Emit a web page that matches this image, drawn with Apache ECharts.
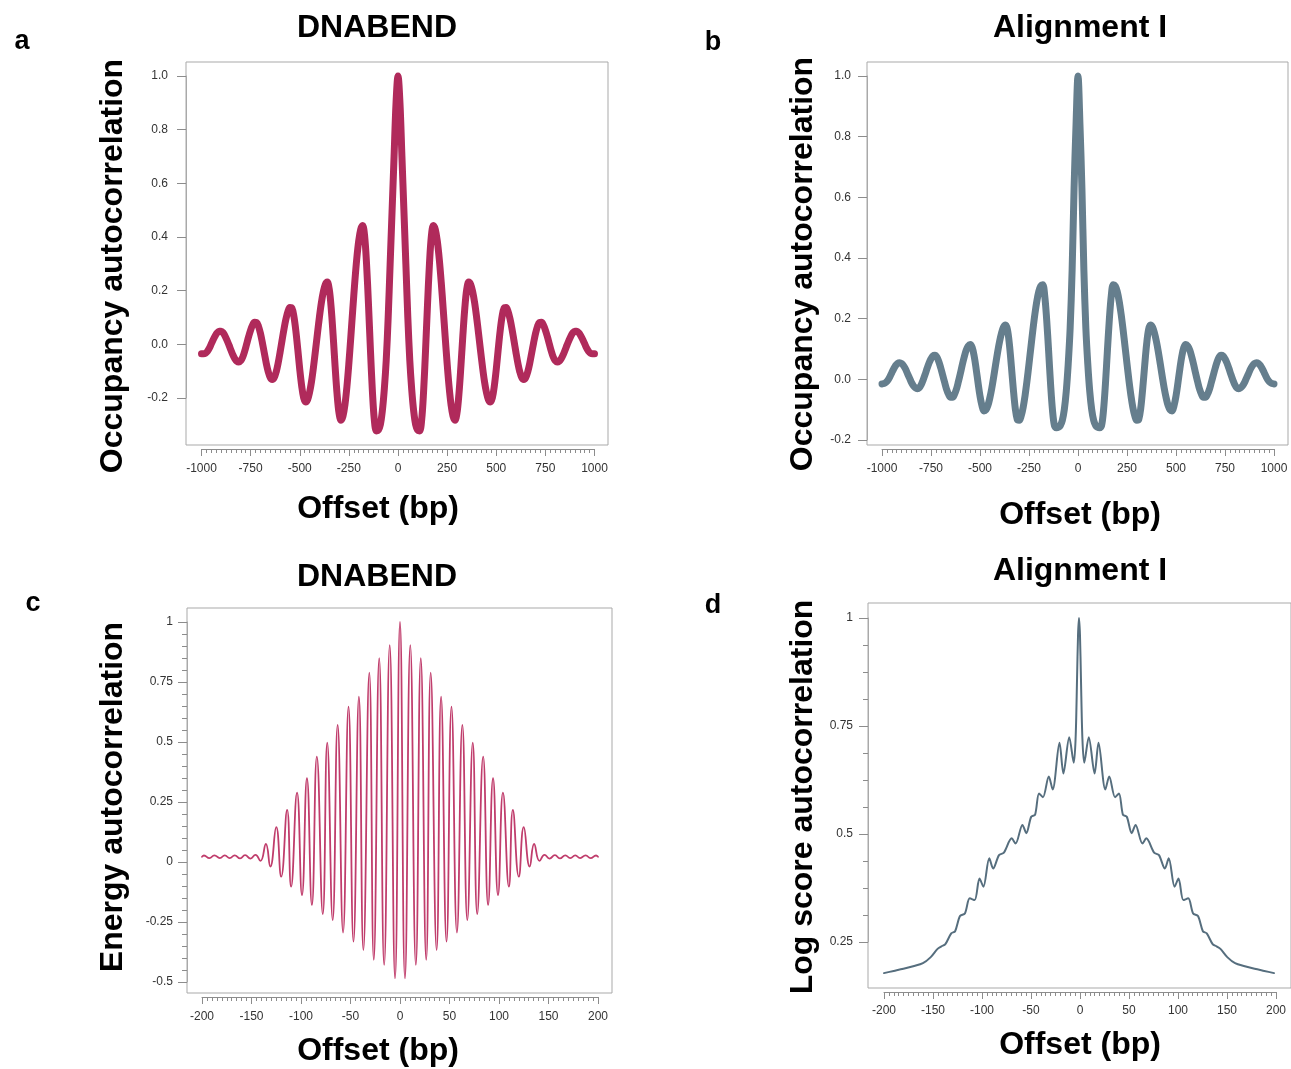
<!DOCTYPE html>
<html>
<head>
<meta charset="utf-8">
<title>Autocorrelation</title>
<style>
  html, body { margin: 0; padding: 0; background: #fff; }
  #main { width: 1291px; height: 1069px; }
</style>
</head>
<body>
<div id="main"></div>
<script src="https://cdn.jsdelivr.net/npm/echarts@6/dist/echarts.min.js"></script>
<script>
var myChart = echarts.init(document.getElementById('main'));

// offsets for panels a and b, one sample every 10 bp
var offsetsAB = [];
for (var s = -1000; s <= 1000; s += 10) offsetsAB.push(s);

// a: DNABEND occupancy autocorrelation
var occDnabend = [
  -0.035, -0.035, -0.033, -0.026, -0.014, 0.002, 0.018, 0.032, 0.043, 0.049,
  0.049, 0.043, 0.031, 0.015, -0.003, -0.022, -0.040, -0.054, -0.063, -0.066,
  -0.061, -0.047, -0.025, 0.002, 0.029, 0.053, 0.072, 0.082, 0.081, 0.067,
  0.041, 0.005, -0.034, -0.072, -0.103, -0.124, -0.131, -0.124, -0.103, -0.070,
  -0.029, 0.015, 0.058, 0.095, 0.123, 0.137, 0.135, 0.105, 0.051, -0.019,
  -0.093, -0.156, -0.200, -0.215, -0.206, -0.179, -0.138, -0.084, -0.023, 0.040,
  0.101, 0.155, 0.196, 0.223, 0.232, 0.206, 0.135, 0.032, -0.083, -0.186,
  -0.257, -0.283, -0.268, -0.225, -0.158, -0.071, 0.028, 0.132, 0.231, 0.318,
  0.385, 0.428, 0.443, 0.405, 0.299, 0.145, -0.025, -0.179, -0.285, -0.323,
  -0.32, -0.3, -0.25, -0.17, -0.06, 0.1, 0.3, 0.5, 0.7, 0.9,
  1.0,
  0.9, 0.7, 0.5, 0.3, 0.1, -0.06, -0.17, -0.25, -0.3, -0.32,
  -0.323, -0.285, -0.179, -0.025, 0.145, 0.299, 0.405, 0.443, 0.428, 0.385,
  0.318, 0.231, 0.132, 0.028, -0.071, -0.158, -0.225, -0.268, -0.283, -0.257,
  -0.186, -0.083, 0.032, 0.135, 0.206, 0.232, 0.223, 0.196, 0.155, 0.101,
  0.040, -0.023, -0.084, -0.138, -0.179, -0.206, -0.215, -0.200, -0.156, -0.093,
  -0.019, 0.051, 0.105, 0.135, 0.137, 0.123, 0.095, 0.058, 0.015, -0.029,
  -0.070, -0.103, -0.124, -0.131, -0.124, -0.103, -0.072, -0.034, 0.005, 0.041,
  0.067, 0.081, 0.082, 0.072, 0.053, 0.029, 0.002, -0.025, -0.047, -0.061,
  -0.066, -0.063, -0.054, -0.040, -0.022, -0.003, 0.015, 0.031, 0.043, 0.049,
  0.049, 0.043, 0.032, 0.018, 0.002, -0.014, -0.026, -0.033, -0.035, -0.035
];

// b: Alignment I occupancy autocorrelation
var occAlignment = [
  -0.015, -0.014, -0.010, -0.003, 0.008, 0.022, 0.035, 0.046, 0.053, 0.055,
  0.052, 0.045, 0.034, 0.019, 0.005, -0.010, -0.021, -0.028, -0.031, -0.028,
  -0.018, -0.002, 0.016, 0.036, 0.054, 0.068, 0.077, 0.079, 0.073, 0.058,
  0.037, 0.013, -0.011, -0.034, -0.050, -0.059, -0.059, -0.049, -0.032, -0.007,
  0.020, 0.049, 0.075, 0.097, 0.110, 0.115, 0.105, 0.077, 0.036, -0.011,
  -0.055, -0.087, -0.104, -0.101, -0.087, -0.062, -0.030, 0.009, 0.050, 0.090,
  0.125, 0.153, 0.172, 0.179, 0.164, 0.115, 0.044, -0.032, -0.096, -0.132,
  -0.135, -0.121, -0.093, -0.053, -0.004, 0.051, 0.108, 0.164, 0.215, 0.258,
  0.290, 0.308, 0.312, 0.277, 0.198, 0.094, -0.015, -0.103, -0.153, -0.16,
  -0.158, -0.152, -0.135, -0.1, -0.04, 0.05, 0.17, 0.36, 0.63, 0.84,
  1.0,
  0.84, 0.63, 0.36, 0.17, 0.05, -0.04, -0.1, -0.135, -0.152, -0.158,
  -0.16, -0.153, -0.103, -0.015, 0.094, 0.198, 0.277, 0.312, 0.308, 0.290,
  0.258, 0.215, 0.164, 0.108, 0.051, -0.004, -0.053, -0.093, -0.121, -0.135,
  -0.132, -0.096, -0.032, 0.044, 0.115, 0.164, 0.179, 0.172, 0.153, 0.125,
  0.090, 0.050, 0.009, -0.030, -0.062, -0.087, -0.101, -0.104, -0.087, -0.055,
  -0.011, 0.036, 0.077, 0.105, 0.115, 0.110, 0.097, 0.075, 0.049, 0.020,
  -0.007, -0.032, -0.049, -0.059, -0.059, -0.050, -0.034, -0.011, 0.013, 0.037,
  0.058, 0.073, 0.079, 0.077, 0.068, 0.054, 0.036, 0.016, -0.002, -0.018,
  -0.028, -0.031, -0.028, -0.021, -0.010, 0.005, 0.019, 0.034, 0.045, 0.052,
  0.055, 0.053, 0.046, 0.035, 0.022, 0.008, -0.003, -0.010, -0.014, -0.015
];

// c: DNABEND energy autocorrelation, read at the turning points
var energyOffsets = [
  -200, -198, -192.5, -187.5, -182, -177, -172, -167, -161.5, -156.5,
  -151, -146, -141, -135.5, -131, -125, -120, -114, -110, -104,
  -99, -94, -89, -84, -78, -73.5, -68, -63, -57.5, -52,
  -47, -41.5, -37, -31, -26.5, -21, -16, -10.4, -5, 0,
  5, 10.4, 16, 21, 26.5, 31, 37, 41.5, 47, 52,
  57.5, 63, 68, 73.5, 78, 84, 89, 94, 99, 104,
  110, 114, 120, 125, 131, 135.5, 141, 146, 151, 156.5,
  161.5, 167, 172, 177, 182, 187.5, 192.5, 198, 200
];
var energyValues = [
  0.022, 0.027, 0.016, 0.028, 0.016, 0.028, 0.016, 0.028, 0.015, 0.029,
  0.014, 0.03, 0.005, 0.075, -0.019, 0.145, -0.061, 0.217, -0.103, 0.289,
  -0.138, 0.349, -0.179, 0.439, -0.217, 0.497, -0.242, 0.571, -0.294, 0.647,
  -0.332, 0.689, -0.367, 0.789, -0.408, 0.849, -0.429, 0.904, -0.485, 1.0,
  -0.485, 0.904, -0.429, 0.849, -0.408, 0.789, -0.367, 0.689, -0.332, 0.647,
  -0.294, 0.571, -0.242, 0.497, -0.217, 0.439, -0.179, 0.349, -0.138, 0.289,
  -0.103, 0.217, -0.061, 0.145, -0.019, 0.075, 0.005, 0.03, 0.014, 0.029,
  0.015, 0.028, 0.016, 0.028, 0.016, 0.028, 0.016, 0.027, 0.022
];

// d: Alignment I log score autocorrelation
var logOffsets = [
  -200, -190, -180, -170, -160, -152, -145, -141, -137, -131,
  -127, -122, -117, -112, -107, -102, -98, -92, -88, -82,
  -77, -69, -65, -58, -54, -49, -45, -41, -37, -31,
  -27, -20, -16, -10, -5.4, -3.5, -2, -1, 0,
  1, 2, 3.5, 5.4, 10, 16, 20, 27, 31, 37,
  41, 45, 49, 54, 58, 65, 69, 77, 82, 88,
  92, 98, 102, 107, 112, 117, 122, 127, 131, 137,
  141, 145, 152, 160, 170, 180, 190, 200
];
var logValues = [
  0.178, 0.183, 0.188, 0.194, 0.201, 0.215, 0.234, 0.24, 0.245, 0.27,
  0.275, 0.31, 0.316, 0.351, 0.347, 0.397, 0.378, 0.444, 0.42, 0.451,
  0.457, 0.49, 0.478, 0.521, 0.502, 0.54, 0.545, 0.594, 0.585, 0.633,
  0.603, 0.711, 0.64, 0.724, 0.665, 0.72, 0.86, 0.96, 1.0,
  0.96, 0.86, 0.72, 0.665, 0.724, 0.64, 0.711, 0.603, 0.633, 0.585,
  0.594, 0.545, 0.54, 0.502, 0.521, 0.478, 0.49, 0.457, 0.451, 0.42,
  0.444, 0.378, 0.397, 0.347, 0.351, 0.316, 0.31, 0.275, 0.27, 0.245,
  0.24, 0.234, 0.215, 0.201, 0.194, 0.188, 0.183, 0.178
];

// tick ranges: [min, max, step]
var xTicksWide = [-1000, 1000, 250];
var xTicksNarrow = [-200, 200, 50];
var yTicksOcc = [-0.2, 1.0, 0.2];
var yTicksEnergy = [-0.5, 1, 0.25];
var yTicksLog = [0.25, 1, 0.25];

function pairs(xs, ys) {
    var out = [];
    for (var i = 0; i < xs.length; i++) out.push([xs[i], ys[i]]);
    return out;
}

// layout in pixels: box [l, t, r, b], where the first/last ticks sit, axis line spots
var panels = [
    {box: [186, 62, 608, 445], xPx: [201.5, 594.5], yPx: [398, 76], xLineY: 449,
     xT: xTicksWide, yT: yTicksOcc, xMinor: 10, yMinor: 0, yLabMargin: 18, xLabMargin: 14,
     data: pairs(offsetsAB, occDnabend), color: '#b02a5b', width: 7, smooth: 0.35, fmt: 1},
    {box: [867, 62, 1288, 445], xPx: [882, 1274], yPx: [440, 76], xLineY: 449,
     xT: xTicksWide, yT: yTicksOcc, xMinor: 10, yMinor: 0, yLabMargin: 16, xLabMargin: 14,
     data: pairs(offsetsAB, occAlignment), color: '#657e8d', width: 7, smooth: 0.35, fmt: 1},
    {box: [187, 608, 612, 993], xPx: [202, 598], yPx: [982, 622], xLineY: 997,
     xT: xTicksNarrow, yT: yTicksEnergy, xMinor: 10, yMinor: 5, yLabMargin: 14, xLabMargin: 14,
     data: pairs(energyOffsets, energyValues), color: '#c03d6c', width: 1.8, smooth: 0.5, fmt: 0},
    {box: [868, 603, 1293, 988], xPx: [884, 1276], yPx: [942, 618], xLineY: 992,
     xT: xTicksNarrow, yT: yTicksLog, xMinor: 10, yMinor: 4, yLabMargin: 15, xLabMargin: 13,
     data: pairs(logOffsets, logValues), color: '#566e7e', width: 2, smooth: 0.3, fmt: 0}
];

function lin(p, p0, p1, v0, v1) {
    return v0 + (p - p0) * (v1 - v0) / (p1 - p0);
}

function oneDecimal(v) {
    return v.toFixed(1);
}

function plain(v) {
    return String(v);
}

var grids = [], xAxes = [], yAxes = [], series = [];
var tickColor = '#8c8c8c';

panels.forEach(function (pn, i) {
    var b = pn.box;
    grids.push({left: b[0], top: b[1], width: b[2] - b[0], height: b[3] - b[1],
        show: true, borderColor: '#a9a9a9', borderWidth: 1, backgroundColor: 'transparent'});
    grids.push({left: pn.xPx[0], top: pn.yPx[1], width: pn.xPx[1] - pn.xPx[0],
        height: pn.yPx[0] - pn.yPx[1], show: false});

    xAxes.push({type: 'value', gridIndex: 2 * i, show: false,
        min: lin(b[0], pn.xPx[0], pn.xPx[1], pn.xT[0], pn.xT[1]),
        max: lin(b[2], pn.xPx[0], pn.xPx[1], pn.xT[0], pn.xT[1])});
    yAxes.push({type: 'value', gridIndex: 2 * i, show: false,
        min: lin(b[3], pn.yPx[0], pn.yPx[1], pn.yT[0], pn.yT[1]),
        max: lin(b[1], pn.yPx[0], pn.yPx[1], pn.yT[0], pn.yT[1])});

    xAxes.push({type: 'value', gridIndex: 2 * i + 1, position: 'bottom',
        offset: pn.xLineY - pn.yPx[0],
        min: pn.xT[0], max: pn.xT[1], interval: pn.xT[2],
        axisLine: {show: true, onZero: false, lineStyle: {color: tickColor, width: 1}},
        axisTick: {show: true, length: 7, lineStyle: {color: tickColor}},
        minorTick: {show: true, splitNumber: pn.xMinor, length: 4, lineStyle: {color: tickColor}},
        axisLabel: {fontSize: 12, color: '#333', margin: pn.xLabMargin, fontFamily: 'Liberation Sans',
            formatter: plain},
        splitLine: {show: false}});

    var yLabel = {fontSize: 12, color: '#333', margin: pn.yLabMargin, fontFamily: 'Liberation Sans',
        formatter: pn.fmt ? oneDecimal : plain};
    yAxes.push({type: 'value', gridIndex: 2 * i + 1, position: 'left',
        offset: pn.xPx[0] - b[0],
        min: pn.yT[0], max: pn.yT[1], interval: pn.yT[2],
        axisLine: {show: true, onZero: false, lineStyle: {color: '#a9a9a9', width: 1}},
        axisTick: {show: true, length: 9, lineStyle: {color: tickColor}},
        minorTick: {show: pn.yMinor > 0, splitNumber: pn.yMinor || 5, length: 5, lineStyle: {color: tickColor}},
        axisLabel: yLabel,
        splitLine: {show: false}});

    series.push({type: 'line', xAxisIndex: 2 * i, yAxisIndex: 2 * i,
        data: pn.data, smooth: pn.smooth, showSymbol: false, symbol: 'none',
        lineStyle: {color: pn.color, width: pn.width, cap: 'round', join: 'round'},
        silent: true});
});

var bigFont = 'bold 32px "Liberation Sans", Arial, sans-serif';
var letterFont = 'bold 27px "Liberation Sans", Arial, sans-serif';
function textAt(text, x, y, font, rot) {
    return {type: 'text', x: x, y: y, rotation: rot || 0,
        style: {text: text, font: font, fill: '#000', textAlign: 'center', textVerticalAlign: 'middle'}};
}

var texts = [
    textAt('a', 22, 42, letterFont),
    textAt('b', 713, 43, letterFont),
    textAt('c', 33, 604, letterFont),
    textAt('d', 713, 606, letterFont),
    textAt('DNABEND', 377, 28, bigFont),
    textAt('Alignment I', 1080, 28, bigFont),
    textAt('DNABEND', 377, 577, bigFont),
    textAt('Alignment I', 1080, 571, bigFont),
    textAt('Offset (bp)', 378, 509, bigFont),
    textAt('Offset (bp)', 1080, 515, bigFont),
    textAt('Offset (bp)', 378, 1051, bigFont),
    textAt('Offset (bp)', 1080, 1045, bigFont),
    textAt('Occupancy autocorrelation', 113, 266, bigFont, Math.PI / 2),
    textAt('Occupancy autocorrelation', 803, 264, bigFont, Math.PI / 2),
    textAt('Energy autocorrelation', 113, 797, bigFont, Math.PI / 2),
    textAt('Log score autocorrelation', 803, 797, bigFont, Math.PI / 2)
];

var option = {
    backgroundColor: '#fff',
    animation: false,
    grid: grids,
    xAxis: xAxes,
    yAxis: yAxes,
    series: series,
    graphic: texts
};
myChart.setOption(option);
</script>
</body>
</html>
